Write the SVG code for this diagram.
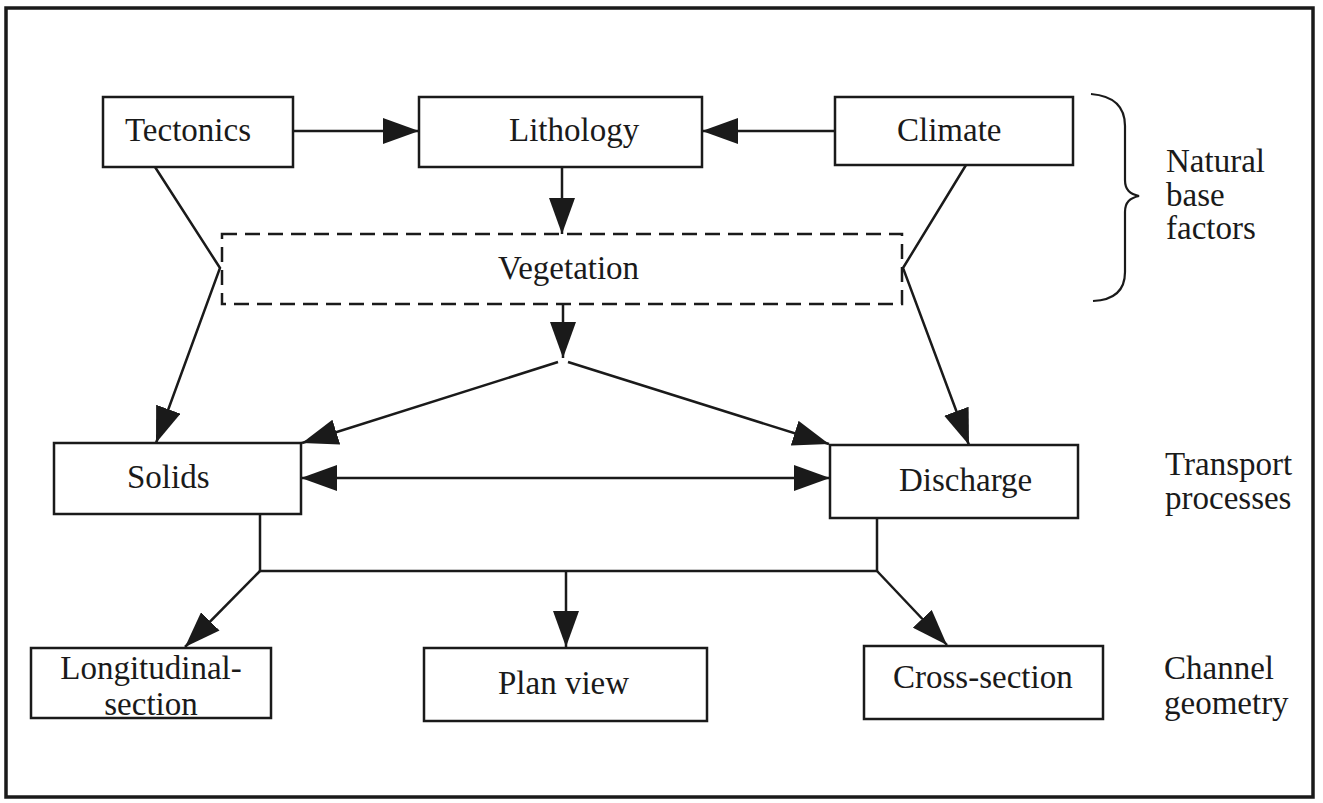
<svg xmlns="http://www.w3.org/2000/svg" width="1323" height="803" viewBox="0 0 1323 803">
  <style>
    .box { fill: #ffffff; stroke: #1a1a1a; stroke-width: 2.5; }
    .dash { fill: none; stroke: #1a1a1a; stroke-width: 2.5; stroke-dasharray: 15 8; }
    .lbl { font-family: "Liberation Serif", "Times New Roman", serif; font-size: 33px; fill: #1a1a1a; }
    .edge { fill: none; stroke: #1a1a1a; stroke-width: 2.5; }
    .arr { marker-end: url(#head); }
  </style>
  <defs>
    <marker id="head" markerUnits="userSpaceOnUse" markerWidth="36" markerHeight="26" refX="36" refY="13" orient="auto-start-reverse">
      <path d="M0,0 L36,13 L0,26 z" fill="#1a1a1a"/>
    </marker>
  </defs>

  <rect width="1323" height="803" fill="#ffffff"/>
  <!-- outer frame -->
  <rect x="6" y="8" width="1307" height="789" fill="none" stroke="#1a1a1a" stroke-width="3.5"/>

  <!-- connectors -->
  <g id="connectors">
    <line class="edge arr" x1="293" y1="131" x2="419" y2="131"/>
    <line class="edge arr" x1="835" y1="131" x2="702" y2="131"/>
    <line class="edge arr" x1="562" y1="167" x2="562" y2="234"/>
    <polyline class="edge arr" points="155,167 220,268 156,443"/>
    <polyline class="edge arr" points="966,165 903,268 969,445"/>
    <line class="edge arr" x1="563" y1="304" x2="563" y2="358"/>
    <line class="edge arr" x1="558" y1="362" x2="302" y2="443"/>
    <line class="edge arr" x1="568" y1="362" x2="829" y2="444"/>
    <line class="edge arr" x1="301" y1="478" x2="830" y2="478" marker-start="url(#head)"/>
    <polyline class="edge" points="260,514 260,571 877,571 877,518"/>
    <line class="edge arr" x1="260" y1="571" x2="185" y2="647"/>
    <line class="edge arr" x1="566" y1="571" x2="566" y2="647"/>
    <line class="edge arr" x1="877" y1="571" x2="947" y2="645"/>
  </g>

  <g id="tectonics">
    <rect class="box" x="103" y="97" width="190" height="70"/>
    <text class="lbl" x="125" y="141">Tectonics</text>
  </g>
  <g id="lithology">
    <rect class="box" x="419" y="97" width="283" height="70"/>
    <text class="lbl" x="509" y="141">Lithology</text>
  </g>
  <g id="climate">
    <rect class="box" x="835" y="97" width="238" height="68"/>
    <text class="lbl" x="897" y="141">Climate</text>
  </g>
  <g id="vegetation">
    <rect class="dash" x="222" y="234" width="680" height="70"/>
    <text class="lbl" x="498" y="279">Vegetation</text>
  </g>
  <g id="solids">
    <rect class="box" x="54" y="443" width="247" height="71"/>
    <text class="lbl" x="127" y="488">Solids</text>
  </g>
  <g id="discharge">
    <rect class="box" x="830" y="445" width="248" height="73"/>
    <text class="lbl" x="899" y="491">Discharge</text>
  </g>
  <g id="longitudinal">
    <rect class="box" x="31" y="648" width="240" height="70"/>
    <text class="lbl" x="151" y="679" text-anchor="middle">Longitudinal-</text>
    <text class="lbl" x="151" y="715" text-anchor="middle">section</text>
  </g>
  <g id="planview">
    <rect class="box" x="424" y="648" width="283" height="73"/>
    <text class="lbl" x="498" y="694">Plan view</text>
  </g>
  <g id="crosssection">
    <rect class="box" x="864" y="646" width="239" height="73"/>
    <text class="lbl" x="893" y="688">Cross-section</text>
  </g>

  <!-- side labels -->
  <g id="natural-base">
    <path d="M1091,94 C1115,96 1125,108 1125,126 L1125,180 C1125,190 1130,194 1139,196 C1130,198 1125,202 1125,212 L1125,272 C1125,290 1115,300 1093,301" fill="none" stroke="#1a1a1a" stroke-width="2.2"/>
    <text class="lbl" x="1166" y="172">Natural</text>
    <text class="lbl" x="1166" y="206">base</text>
    <text class="lbl" x="1166" y="239">factors</text>
  </g>
  <g id="transport">
    <text class="lbl" x="1165" y="475">Transport</text>
    <text class="lbl" x="1165" y="509">processes</text>
  </g>
  <g id="channel">
    <text class="lbl" x="1164" y="679">Channel</text>
    <text class="lbl" x="1164" y="714">geometry</text>
  </g>
</svg>
